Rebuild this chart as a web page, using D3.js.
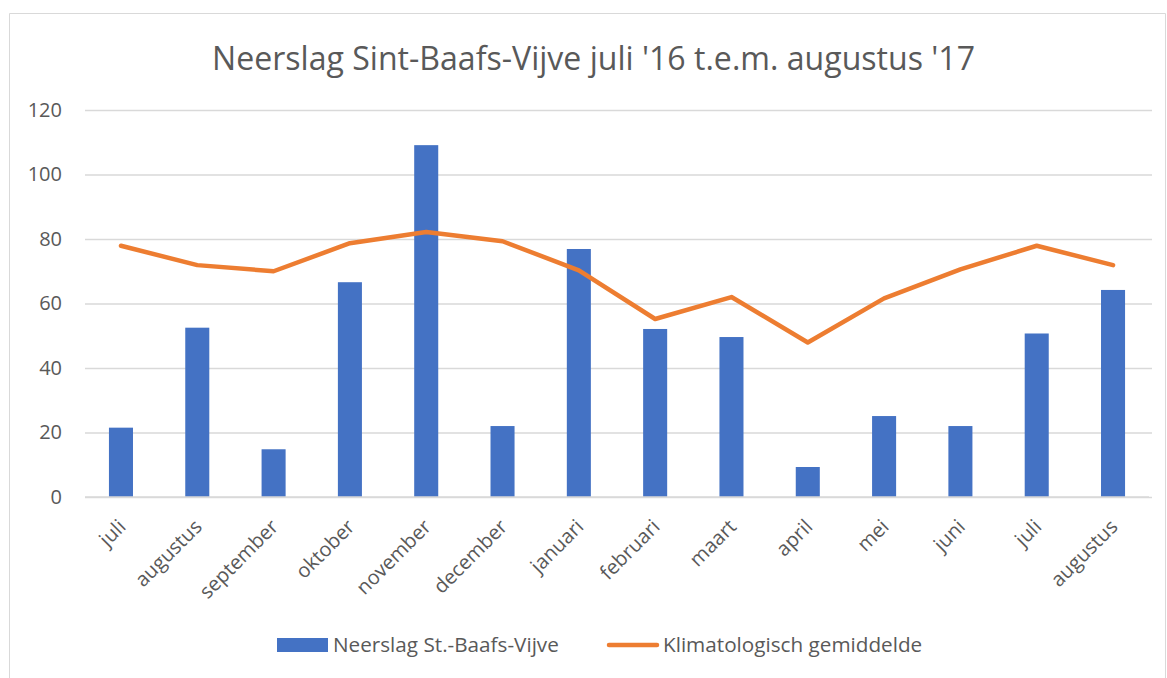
<!DOCTYPE html>
<html>
<head>
<meta charset="utf-8">
<script src="https://cdn.jsdelivr.net/npm/d3@7"></script>
<style>
  html, body { margin: 0; padding: 0; background: #fff; }
  svg { display: block; }
  text { font-family: "Open Sans", sans-serif; fill: #595959; }
</style>
</head>
<body>
<svg id="chart" width="1167" height="678"></svg>
<script>
const title = "Neerslag Sint-Baafs-Vijve juli '16 t.e.m. augustus '17";
const months = ["juli", "augustus", "september", "oktober", "november", "december", "januari", "februari", "maart", "april", "mei", "juni", "juli", "augustus"];
const rainfall = [21.5, 52.5, 14.8, 66.6, 109.1, 22.0, 76.9, 52.1, 49.6, 9.3, 25.1, 22.0, 50.7, 64.2];
const climate = [77.9, 71.9, 70.0, 78.7, 82.2, 79.3, 70.3, 55.2, 62.0, 47.9, 61.6, 70.6, 77.9, 71.9];
const yTicks = [0, 20, 40, 60, 80, 100, 120];
const seriesNames = ["Neerslag St.-Baafs-Vijve", "Klimatologisch gemiddelde"];

const svg = d3.select("#chart");
const W = 1167, H = 678;
const m = { left: 83, right: 16, top: 110, bottom: 181 };
const FONT = "'Open Sans', sans-serif";

// outer chart border
svg.append("path")
  .attr("d", `M9.5,${H} V13.5 H1165.5 V${H}`)
  .attr("fill", "none").attr("stroke", "#d9d9d9").attr("stroke-width", 1);

// title
svg.append("text")
  .attr("x", 593.5).attr("y", 70)
  .attr("text-anchor", "middle")
  .attr("font-size", 32)
  .attr("textLength", 763).attr("lengthAdjust", "spacingAndGlyphs")
  .text(title);

const idx = months.map((d, i) => i);
const x = d3.scaleBand().domain(idx).range([m.left, W - m.right]).paddingInner(0.685).paddingOuter(0.34);
const y = d3.scaleLinear().domain([0, 120]).range([H - m.bottom, m.top]);

// gridlines + y labels
const yAxis = d3.axisLeft(y).tickValues(yTicks).tickSize(-(W - m.right - m.left - 1)).tickPadding(23);
const gy = svg.append("g").attr("transform", `translate(${m.left + 2},0)`).call(yAxis);
gy.select(".domain").remove();
gy.selectAll(".tick line").attr("stroke", "#d9d9d9").attr("stroke-width", 1.3);
gy.selectAll(".tick text").attr("font-size", 20).attr("fill", "#595959").attr("font-family", FONT);

// bars
svg.append("g").selectAll("rect").data(rainfall).join("rect")
  .attr("x", (d, i) => x(i))
  .attr("width", x.bandwidth())
  .attr("y", d => y(d))
  .attr("height", d => y(0) - y(d))
  .attr("fill", "#4472c4");

// baseline
svg.append("line")
  .attr("x1", m.left + 2).attr("x2", W - m.right - 2)
  .attr("y1", y(0)).attr("y2", y(0))
  .attr("stroke", "#d9d9d9").attr("stroke-width", 1.3);

// climate line
const line = d3.line().x((d, i) => x(i) + x.bandwidth() / 2).y(d => y(d));
svg.append("path").datum(climate)
  .attr("d", line)
  .attr("fill", "none").attr("stroke", "#ed7d31").attr("stroke-width", 4.5)
  .attr("stroke-linejoin", "round").attr("stroke-linecap", "round");

// x axis labels
const xAxis = d3.axisBottom(x).tickFormat(i => months[i]).tickSize(0).tickPadding(0);
const gx = svg.append("g").attr("transform", `translate(0,${y(0)})`).call(xAxis);
gx.select(".domain").remove();
gx.selectAll(".tick text")
  .attr("font-size", 20).attr("fill", "#595959").attr("font-family", FONT)
  .attr("text-anchor", "end")
  .attr("dy", 0)
  .attr("transform", "translate(6,31) rotate(-45)");

// legend
const lg = svg.append("g");
lg.append("rect").attr("x", 277).attr("y", 638).attr("width", 51).attr("height", 14).attr("fill", "#4472c4");
lg.append("text").attr("x", 333).attr("y", 652).attr("font-size", 20.7).text(seriesNames[0]);
lg.append("line").attr("x1", 609).attr("x2", 657).attr("y1", 645).attr("y2", 645)
  .attr("stroke", "#ed7d31").attr("stroke-width", 4.5).attr("stroke-linecap", "round");
lg.append("text").attr("x", 663).attr("y", 652).attr("font-size", 20.7).text(seriesNames[1]);
</script>
</body>
</html>
